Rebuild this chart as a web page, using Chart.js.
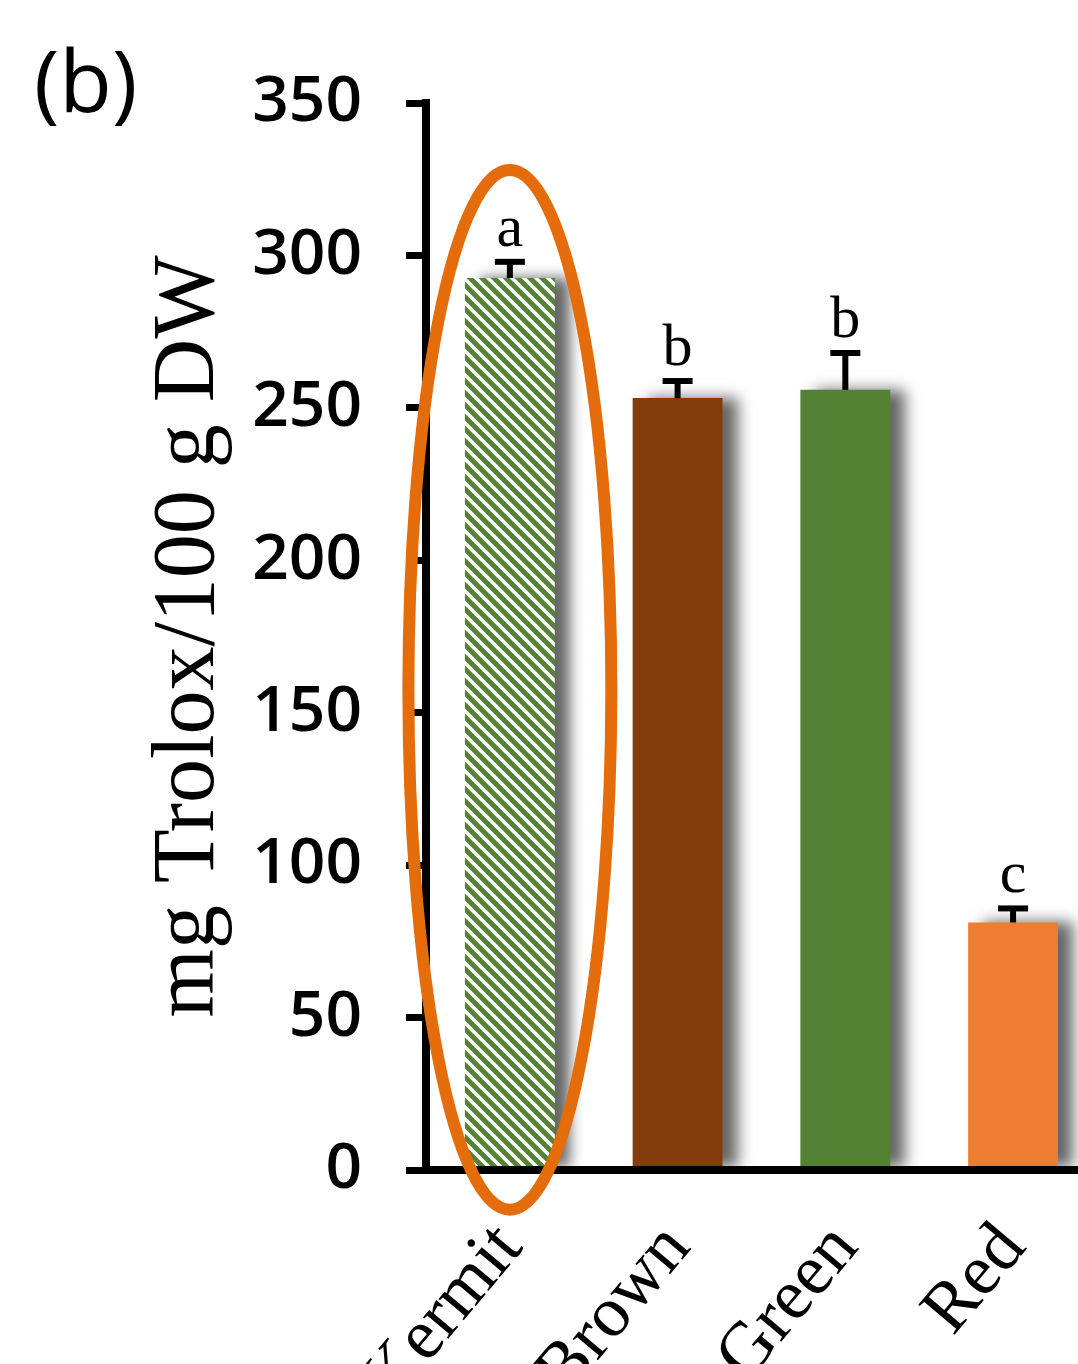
<!DOCTYPE html>
<html>
<head>
<meta charset="utf-8">
<script src="https://cdn.jsdelivr.net/npm/chart.js@4"></script>
<style>
  html, body { margin: 0; padding: 0; background: #fff; overflow: hidden; }
  #wrap { width: 1120px; height: 1364px; }
</style>
</head>
<body>
<div id="wrap"><canvas id="trolox" width="1120" height="1364"></canvas></div>
<script>
// ---------- DATA ----------
const cultivars = ['Kermit', 'Brown', 'Green', 'Red'];
const trolox = [292.6, 253.2, 255.9, 81.2];
const troloxErr = [5.3, 5.6, 12.1, 4.6];
const groupLetters = ['a', 'b', 'b', 'c'];
const yMin = 0, yMax = 350, yStep = 50;

// highlight ring around Kermit, in axis units
const ringIndex = 0;
const ringTop = 328, ringBottom = -13;

// ---------- STYLE ----------
const barColors = ['#548235', '#843C0C', '#548235', '#ED7D31'];

function stripes(color) {
    const s = 12;
    const c = document.createElement('canvas');
    c.width = s; c.height = s;
    const g = c.getContext('2d');
    g.fillStyle = '#fff';
    g.fillRect(0, 0, s, s);
    g.strokeStyle = color;
    g.lineWidth = 5;
    g.beginPath();
    g.moveTo(-s, 0); g.lineTo(s, 2 * s);
    g.moveTo(0, 0); g.lineTo(s, s);
    g.moveTo(-s / 2, -s / 2); g.lineTo(s * 1.5, s * 1.5);
    g.moveTo(0, -s); g.lineTo(2 * s, s);
    g.stroke();
    return g.createPattern(c, 'repeat');
}

const fills = barColors.map((c, i) => i === 0 ? stripes(c) : c);

// ---------- EXTRAS: shadows, error bars, letters, ring, panel tag ----------
const extras = {
    id: 'extras',
    beforeDatasetsDraw(chart) {
        const ctx = chart.ctx;
        ctx.save();
        ctx.shadowColor = 'rgba(0,0,0,0.6)';
        ctx.shadowOffsetX = 15;
        ctx.shadowOffsetY = 0;
        ctx.shadowBlur = 14;
    },
    afterDatasetsDraw(chart) {
        const ctx = chart.ctx;
        ctx.restore();
        const y = chart.scales.y;
        const meta = chart.getDatasetMeta(0);
        ctx.save();
        ctx.strokeStyle = '#000';
        ctx.fillStyle = '#000';
        meta.data.forEach((bar, i) => {
            const cx = bar.x;
            const yTop = y.getPixelForValue(trolox[i] + troloxErr[i]);
            const yBar = y.getPixelForValue(trolox[i]);
            ctx.lineWidth = 6;
            ctx.beginPath();
            ctx.moveTo(cx, yBar);
            ctx.lineTo(cx, yTop);
            ctx.stroke();
            ctx.beginPath();
            ctx.moveTo(cx - 15, yTop);
            ctx.lineTo(cx + 15, yTop);
            ctx.stroke();
            ctx.font = '60px "Liberation Serif"';
            ctx.textAlign = 'center';
            ctx.textBaseline = 'alphabetic';
            ctx.fillText(groupLetters[i], cx, yTop - 16);
        });
        ctx.restore();
    },
    afterDraw(chart) {
        const ctx = chart.ctx;
        const x = chart.scales.x, y = chart.scales.y;
        const cx = x.getPixelForValue(ringIndex);
        const top = y.getPixelForValue(ringTop);
        const bot = y.getPixelForValue(ringBottom);
        const rx = x.width / cultivars.length * 0.605;
        ctx.save();
        ctx.strokeStyle = '#E46C0A';
        ctx.lineWidth = 12;
        ctx.beginPath();
        ctx.ellipse(cx, (top + bot) / 2, rx, (bot - top) / 2, 0, 0, Math.PI * 2);
        ctx.stroke();
        ctx.fillStyle = '#000';
        ctx.font = '86px "Open Sans"';
        ctx.textAlign = 'left';
        ctx.textBaseline = 'alphabetic';
        ctx.fillText('(b)', 34, 112);
        ctx.restore();
    }
};

new Chart(document.getElementById('trolox'), {
    type: 'bar',
    data: {
        labels: cultivars,
        datasets: [{
            data: trolox,
            backgroundColor: fills,
            borderWidth: 0,
            categoryPercentage: 1,
            barPercentage: 0.536
        }]
    },
    options: {
        responsive: false,
        animation: false,
        layout: { padding: { top: 103, right: 22, bottom: 0, left: 0 } },
        plugins: { legend: { display: false }, tooltip: { enabled: false } },
        scales: {
            x: {
                afterFit: s => { s.height = 194; },
                grid: { display: false, drawTicks: false },
                border: { display: true, color: '#000', width: 8, z: 1 },
                ticks: {
                    autoSkip: false,
                    minRotation: 50,
                    maxRotation: 50,
                    padding: 38,
                    color: '#000',
                    font: { family: '"Liberation Serif"', size: 72 }
                }
            },
            y: {
                min: yMin,
                max: yMax,
                afterFit: s => { s.width = 426; },
                grid: { drawOnChartArea: false, drawTicks: true, tickLength: 20, lineWidth: 7, color: '#000' },
                border: { display: true, color: '#000', width: 8, z: 1 },
                ticks: {
                    stepSize: yStep,
                    padding: 44,
                    color: '#000',
                    font: { family: '"Open Sans"', size: 64, weight: '600' }
                },
                title: {
                    display: true,
                    text: 'mg Trolox/100 g DW',
                    color: '#000',
                    padding: { top: 137, bottom: 0 },
                    font: { family: '"Liberation Serif"', size: 88 }
                }
            }
        }
    },
    plugins: [extras]
});
</script>
</body>
</html>
